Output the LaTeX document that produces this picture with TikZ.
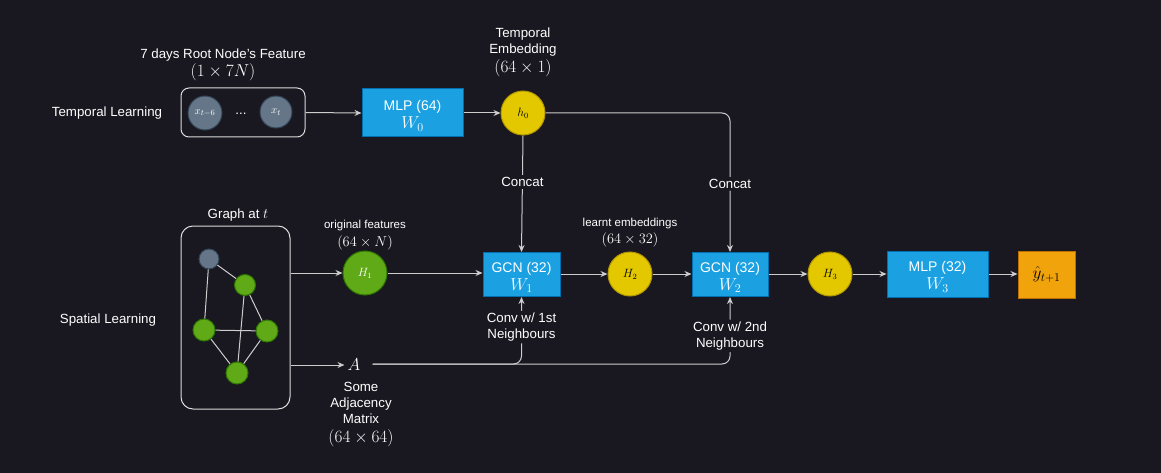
\documentclass[tikz,border=0pt]{standalone}
\usepackage{fontspec}
\setmainfont{Liberation Sans}
\usetikzlibrary{arrows.meta}
\definecolor{bg}{RGB}{25,23,31}
\definecolor{linec}{RGB}{205,205,205}
\definecolor{boxline}{RGB}{220,220,220}
\definecolor{bluefill}{HTML}{1BA1E2}
\definecolor{bluestroke}{HTML}{006EAF}
\definecolor{yelfill}{HTML}{E3C800}
\definecolor{yelstroke}{HTML}{B09500}
\definecolor{grnfill}{HTML}{60A917}
\definecolor{grnstroke}{HTML}{2D7600}
\definecolor{gryfill}{HTML}{647687}
\definecolor{grystroke}{HTML}{314354}
\definecolor{orgfill}{HTML}{F0A30A}
\definecolor{orgstroke}{HTML}{BD7000}
\newcommand\wfnt{\fontsize{18}{18}\selectfont}
\newcommand\topstrut{\rule{0pt}{16pt}}
\begin{document}
\begin{tikzpicture}[x=1pt,y=-1pt,
  every node/.style={text=white, font=\fontsize{13.3}{16}\selectfont, align=center, inner sep=0pt},
  line/.style={draw=linec, line width=1pt},
  arr/.style={line, -{Stealth[length=7pt,width=6pt]}},
  bluebox/.style={draw=bluestroke, fill=bluefill, line width=1pt, font=\fontsize{14}{16}\selectfont},
  ycirc/.style={circle, draw=yelstroke, fill=yelfill, line width=1pt, minimum size=44pt, text=black, font=\fontsize{12}{12}\selectfont},
  gcirc/.style={circle, draw=grnstroke, fill=grnfill, line width=1pt},
  grycirc/.style={circle, draw=grystroke, fill=gryfill, line width=1pt},
  frame/.style={draw=boxline, line width=1pt},
  lbl/.style={fill=bg, inner sep=2pt},
  small/.style={font=\fontsize{11.5}{13}\selectfont},
  mth/.style={font=\fontsize{17}{17}\selectfont}
]
\fill[bg] (0,0) rectangle (1161,473);
\useasboundingbox (0,0) rectangle (1161,473);

% labels on the left
\node (tl) at (107,113) {Temporal Learning};
\node (sl) at (108,320) {Spatial Learning};

% temporal input
\node[frame, rounded corners=8pt, minimum width=124pt, minimum height=49pt] (tbox) at (243,112.5) {};
\node[grycirc, minimum size=34pt, font=\fontsize{11}{11}\selectfont] (xa) at (205,113) {$x_{t-6}$};
\node[grycirc, minimum size=32pt, font=\fontsize{11}{11}\selectfont] (xb) at (276,112) {$x_t$};
\node (dots) at (241,114) {...};
\node (ttitle) at (223,55) {7 days Root Node's Feature};
\node[mth] (tdim) at (223,72) {$(1\times 7N)$};

% MLP 0 and h0
\node[bluebox, minimum width=101pt, minimum height=48pt] (mlp0) at (412.5,113) {\topstrut MLP (64)\\[2pt]{\wfnt$W_0$}};
\node[ycirc] (h0) at (523,113) {$h_0$};
\node (tetxt) at (523,42.5) {Temporal\\Embedding};
\node[mth] (tedim) at (523,68.5) {$(64\times 1)$};

% graph
\node[frame, rounded corners=12pt, minimum width=109pt, minimum height=183pt] (gbox) at (235.5,317.5) {};
\node (gtitle) at (238,215) {Graph at $t$};
\node[grycirc, minimum size=20pt] (g0) at (209,259) {};
\node[gcirc, minimum size=21pt] (g1) at (245,285) {};
\node[gcirc, minimum size=22pt] (g2) at (204,330) {};
\node[gcirc, minimum size=22pt] (g3) at (267,331) {};
\node[gcirc, minimum size=22pt] (g4) at (237,373) {};
\draw[line] (g0) -- (g1);
\draw[line] (g0) -- (g2);
\draw[line] (g1) -- (g3);
\draw[line] (g1) -- (g4);
\draw[line] (g2) -- (g3);
\draw[line] (g2) -- (g4);
\draw[line] (g3) -- (g4);

% spatial chain
\node[gcirc, minimum size=44pt, font=\fontsize{12}{12}\selectfont] (H1) at (365,273) {$H_1$};
\node[small] (oft) at (365,226) {original features};
\node[font=\fontsize{15}{15}\selectfont] (ofd) at (365,243) {$(64\times N)$};
\node[bluebox, minimum width=77pt, minimum height=44pt] (gcn1) at (521.5,274.5) {\topstrut GCN (32)\\[2pt]{\wfnt$W_1$}};
\node[ycirc] (H2) at (630,274) {$H_2$};
\node[small] (let) at (630,224) {learnt embeddings};
\node[font=\fontsize{15}{15}\selectfont] (led) at (630,240) {$(64\times 32)$};
\node[bluebox, minimum width=76pt, minimum height=44pt] (gcn2) at (730,274.5) {\topstrut GCN (32)\\[2pt]{\wfnt$W_2$}};
\node[ycirc] (H3) at (830,274) {$H_3$};
\node[bluebox, minimum width=101pt, minimum height=46pt] (mlp3) at (937.5,274) {\topstrut MLP (32)\\[2pt]{\wfnt$W_3$}};
\node[draw=orgstroke, fill=orgfill, line width=1pt, minimum width=57pt, minimum height=47pt, text=black, font=\fontsize{17}{17}\selectfont] (yhat) at (1046.5,274.5) {$\hat{y}_{t+1}$};

% adjacency
\node[font=\fontsize{17}{17}\selectfont] (A) at (354,365) {$A$};
\node (adj) at (361,403) {Some\\Adjacency\\Matrix};
\node[mth] (adjd) at (361,438) {$(64\times 64)$};

% connectors
\draw[arr] (tbox.east) -- (mlp0.west);
\draw[arr] (mlp0.east) -- (h0.west);
\draw[arr, rounded corners=8pt] (h0.east) -- (gcn2.north |- h0.east) -- node[lbl, pos=0.51] {Concat} (gcn2.north);
\draw[arr] (h0.south) -- node[lbl, pos=0.40] {Concat} (gcn1.north);
\draw[arr] (gbox.east |- H1.west) -- (H1.west);
\draw[arr] (H1.east) -- (H1.east -| gcn1.west);
\draw[arr] (gcn1.east |- H2.west) -- (H2.west);
\draw[arr] (H2.east) -- (H2.east -| gcn2.west);
\draw[arr] (gcn2.east |- H3.west) -- (H3.west);
\draw[arr] (H3.east) -- (mlp3.west);
\draw[arr] (mlp3.east) -- (mlp3.east -| yhat.west);
\draw[arr] (gbox.east |- A.west) -- ([xshift=-3pt]A.west);
\coordinate (aout) at ([xshift=12pt,yshift=1pt]A.east);
\draw[arr, rounded corners=8pt] (aout) -- (gcn1.south |- aout) -- node[lbl, pos=0.55] {Conv w/ 1st\\Neighbours} (gcn1.south);
\draw[arr, rounded corners=8pt] (aout) -- (gcn2.south |- aout) -- node[lbl, pos=0.42] {Conv w/ 2nd\\Neighbours} (gcn2.south);
\end{tikzpicture}
\end{document}
